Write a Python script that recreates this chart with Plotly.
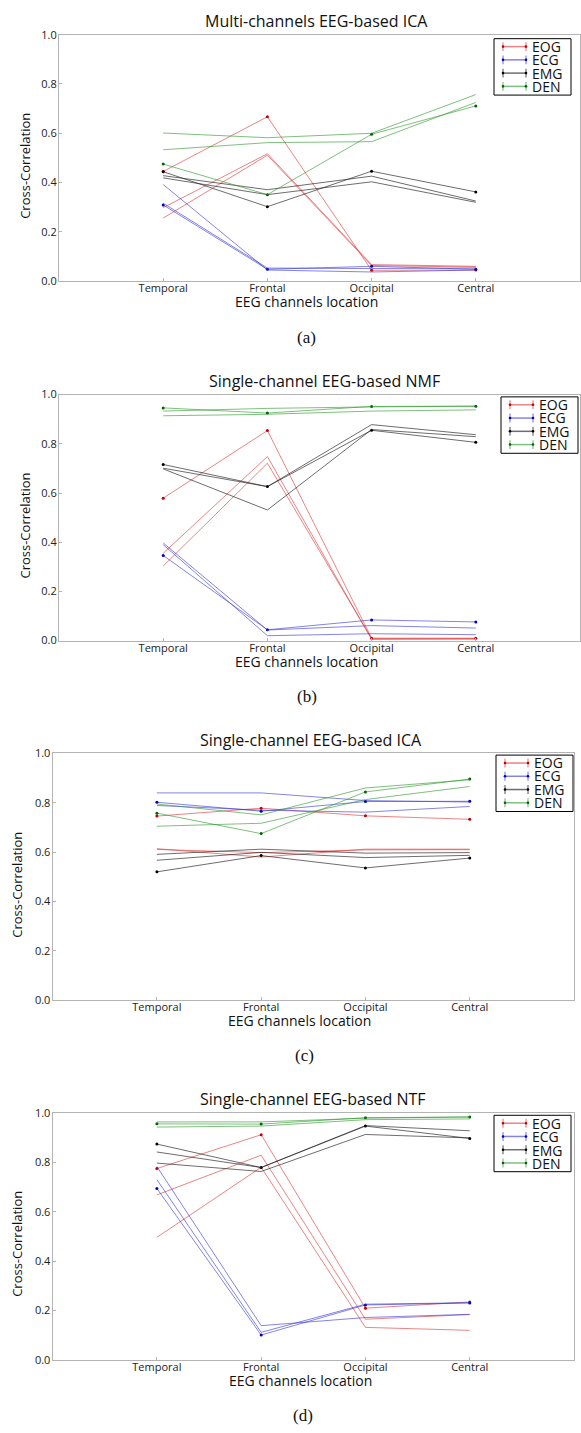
import plotly.graph_objects as go

W, H = 581, 1433

categories = ["Temporal", "Frontal", "Occipital", "Central"]
artifacts = ["EOG", "ECG", "EMG", "DEN"]
y_ticks = [0.0, 0.2, 0.4, 0.6, 0.8, 1.0]
y_tick_labels = ["0.0", "0.2", "0.4", "0.6", "0.8", "1.0"]

panel_titles = ["Multi-channels EEG-based ICA", "Single-channel EEG-based NMF",
                "Single-channel EEG-based ICA", "Single-channel EEG-based NTF"]
panel_labels = ["(a)", "(b)", "(c)", "(d)"]
x_title = "EEG channels location"
y_title = "Cross-Correlation"

# first series of each group is the one drawn with dot markers
a_EOG = [[0.445, 0.667, 0.044, 0.045], [0.298, 0.517, 0.067, 0.060], [0.256, 0.511, 0.063, 0.057]]
a_ECG = [[0.309, 0.048, 0.060, 0.048], [0.316, 0.053, 0.051, 0.053], [0.392, 0.045, 0.037, 0.045]]
a_EMG = [[0.444, 0.302, 0.446, 0.362], [0.428, 0.371, 0.426, 0.325], [0.419, 0.351, 0.403, 0.320]]
a_DEN = [[0.475, 0.351, 0.596, 0.711], [0.601, 0.582, 0.600, 0.757], [0.533, 0.562, 0.566, 0.725]]

b_EOG = [[0.579, 0.854, 0.010, 0.010], [0.355, 0.748, 0.005, 0.006], [0.303, 0.721, 0.008, 0.008]]
b_ECG = [[0.346, 0.044, 0.084, 0.076], [0.397, 0.043, 0.061, 0.051], [0.390, 0.020, 0.028, 0.024]]
b_EMG = [[0.716, 0.626, 0.855, 0.806], [0.701, 0.626, 0.878, 0.837], [0.698, 0.531, 0.858, 0.829]]
b_DEN = [[0.946, 0.925, 0.952, 0.953], [0.933, 0.944, 0.950, 0.953], [0.914, 0.920, 0.933, 0.938]]

c_EOG = [[0.746, 0.778, 0.747, 0.733], [0.614, 0.580, 0.612, 0.612], [0.611, 0.598, 0.609, 0.610]]
c_ECG = [[0.802, 0.766, 0.805, 0.806], [0.840, 0.840, 0.809, 0.803], [0.789, 0.770, 0.762, 0.785]]
c_EMG = [[0.520, 0.586, 0.536, 0.576], [0.591, 0.612, 0.596, 0.598], [0.567, 0.599, 0.578, 0.587]]
c_DEN = [[0.758, 0.675, 0.844, 0.896], [0.795, 0.751, 0.860, 0.893], [0.705, 0.717, 0.813, 0.866]]

d_EOG = [[0.775, 0.912, 0.209, 0.234], [0.668, 0.829, 0.164, 0.183], [0.496, 0.780, 0.131, 0.119]]
d_ECG = [[0.694, 0.100, 0.222, 0.230], [0.730, 0.111, 0.225, 0.231], [0.783, 0.138, 0.171, 0.184]]
d_EMG = [[0.874, 0.779, 0.947, 0.897], [0.842, 0.779, 0.949, 0.928], [0.797, 0.763, 0.913, 0.899]]
d_DEN = [[0.956, 0.955, 0.981, 0.984], [0.964, 0.964, 0.979, 0.984], [0.943, 0.947, 0.973, 0.976]]

panels = [
    {"EOG": a_EOG, "ECG": a_ECG, "EMG": a_EMG, "DEN": a_DEN},
    {"EOG": b_EOG, "ECG": b_ECG, "EMG": b_EMG, "DEN": b_DEN},
    {"EOG": c_EOG, "ECG": c_ECG, "EMG": c_EMG, "DEN": c_DEN},
    {"EOG": d_EOG, "ECG": d_ECG, "EMG": d_EMG, "DEN": d_DEN},
]

line_colors = {"EOG": "rgba(220,50,50,0.6)", "ECG": "rgba(50,50,215,0.6)",
               "EMG": "rgba(30,30,30,0.65)", "DEN": "rgba(40,150,40,0.6)"}
marker_colors = {"EOG": "#c00000", "ECG": "#0000c0", "EMG": "#000000", "DEN": "#006400"}

# layout geometry in pixels: (left, right, top, bottom)
boxes = [(59, 580, 27, 276), (59, 580, 390.7, 639.3),
         (52.6, 574, 753.3, 1002.7), (52.6, 574, 1116.7, 1366)]
title_pos = [(316, 13.5), (324, 377), (310.5, 740), (313, 1103)]
xtitle_x = [306.5, 306.5, 299, 300.7]
ytitle_x = [25, 25, 17, 17.6]
label_x = [306.5, 306.5, 304, 303]
legend_pos = [(494, 31), (501, 393), (496, 755), (494, 1119)]
LEG_STEP = 13.4

def px(x):
    return x / W

def py(y):
    return 1 - y / H

fig = go.Figure()
font_family = "Open Sans"

for i, data in enumerate(panels):
    n = "" if i == 0 else str(i + 1)
    xa, ya = "x" + n, "y" + n
    for art in artifacts:
        for k, series in enumerate(data[art]):
            fig.add_trace(go.Scatter(
                x=categories, y=series, xaxis=xa, yaxis=ya,
                mode="lines+markers" if k == 0 else "lines",
                line=dict(color=line_colors[art], width=1),
                marker=dict(color=marker_colors[art], size=3),
                showlegend=False, hoverinfo="skip"))
    l, r, t, b = boxes[i]
    axis_common = dict(showline=True, mirror=True, linecolor="#b4b4b4", linewidth=1,
                       showgrid=False, zeroline=False, ticks="inside", ticklen=3,
                       tickcolor="#b4b4b4",
                       tickfont=dict(family=font_family, size=11, color="#222"))
    fig.layout["xaxis" + n] = dict(domain=[px(l), px(r)], anchor=ya, type="category",
                                   categoryarray=categories, range=[-1, 4],
                                   ticklabelstandoff=-3, **axis_common)
    fig.layout["yaxis" + n] = dict(domain=[py(b), py(t)], anchor=xa, range=[0, 1],
                                   tickvals=y_ticks, ticktext=y_tick_labels,
                                   ticklabelstandoff=-1, **axis_common)

annotations = []
shapes = []
for i in range(4):
    l, r, t, b = boxes[i]
    tx, ty = title_pos[i]
    annotations.append(dict(text=panel_titles[i], x=px(tx), y=py(ty), xref="paper", yref="paper",
                            showarrow=False, xanchor="center", yanchor="middle",
                            font=dict(family=font_family, size=16, color="#111")))
    annotations.append(dict(text=x_title, x=px(xtitle_x[i]), y=py(b + 21), xref="paper", yref="paper",
                            showarrow=False, xanchor="center", yanchor="middle",
                            font=dict(family=font_family, size=14, color="#111")))
    annotations.append(dict(text=y_title, x=px(ytitle_x[i]), y=py((t + b) / 2 + 8), xref="paper",
                            yref="paper", showarrow=False, xanchor="center", yanchor="middle",
                            textangle=-90, font=dict(family=font_family, size=13, color="#111")))
    annotations.append(dict(text=panel_labels[i], x=px(label_x[i]), y=py(t + 305.5), xref="paper",
                            yref="paper", showarrow=False, xanchor="center", yanchor="middle",
                            font=dict(family="Liberation Serif", size=17, color="#111")))
    # legend drawn as a matplotlib-style errorbar legend
    lx, ly = legend_pos[i]
    shapes.append(dict(type="rect", xref="paper", yref="paper", x0=px(lx), x1=px(lx + 77),
                       y0=py(ly), y1=py(ly + 57), line=dict(color="#000", width=1),
                       fillcolor="white", layer="above"))
    for j, art in enumerate(artifacts):
        cy = ly + 8 + j * LEG_STEP
        gx0, gx1 = lx + 9, lx + 32
        shapes.append(dict(type="line", xref="paper", yref="paper", x0=px(gx0), x1=px(gx1),
                           y0=py(cy), y1=py(cy), line=dict(color=line_colors[art], width=1.5),
                           layer="above"))
        for gx in (gx0, gx1):
            shapes.append(dict(type="line", xref="paper", yref="paper", x0=px(gx), x1=px(gx),
                               y0=py(cy - 4.5), y1=py(cy + 4.5),
                               line=dict(color=line_colors[art], width=1.2), layer="above"))
            shapes.append(dict(type="circle", xref="paper", yref="paper", x0=px(gx - 1.3),
                               x1=px(gx + 1.3), y0=py(cy - 1.3), y1=py(cy + 1.3),
                               line=dict(width=0), fillcolor=marker_colors[art], layer="above"))
    # one multi-line text block for the four labels (line pitch from the base font size)
    legend_text = "<br>".join('<span style="font-size:14px">%s</span>' % a for a in artifacts)
    annotations.append(dict(text=legend_text, x=px(lx + 36), y=py(ly + 8 + 1.5 * LEG_STEP),
                            xref="paper", yref="paper", showarrow=False, xanchor="left",
                            yanchor="middle", align="left",
                            font=dict(family=font_family, size=LEG_STEP / 1.3, color="#111")))

fig.update_layout(width=W, height=H, margin=dict(l=0, r=0, t=0, b=0),
                  paper_bgcolor="white", plot_bgcolor="white", showlegend=False,
                  annotations=annotations, shapes=shapes)

fig.write_html("out.html", config={"displayModeBar": False},
               post_script="document.body.style.margin='0px';document.body.style.overflow='hidden';")
